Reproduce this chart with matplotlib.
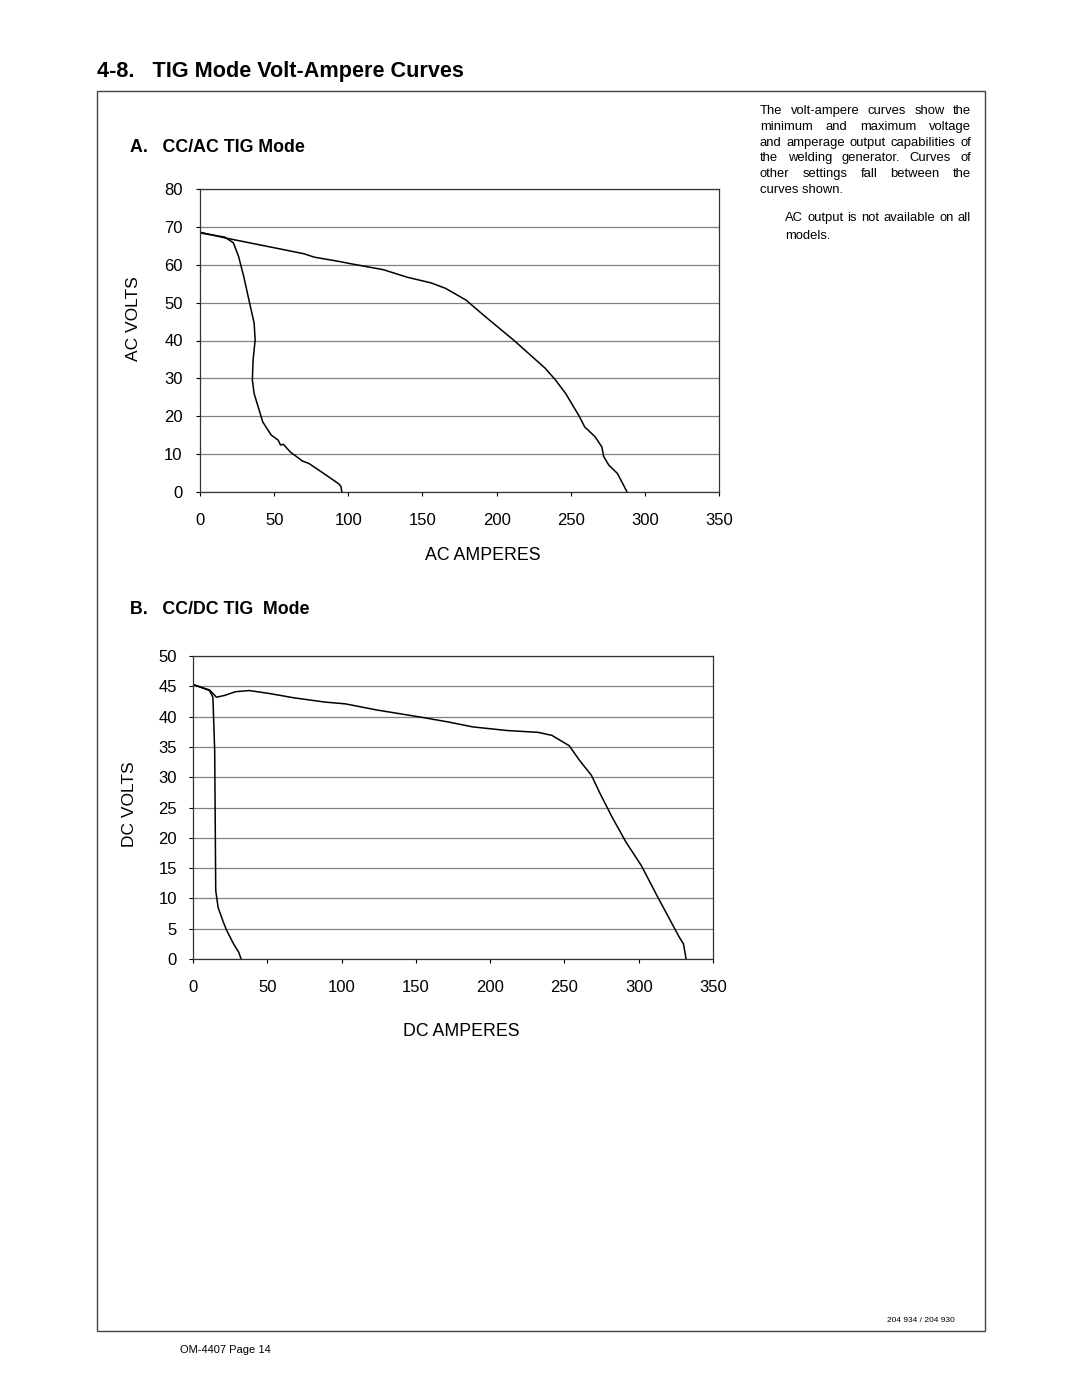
import matplotlib
matplotlib.use('Agg')
import matplotlib.pyplot as plt
from matplotlib.patches import Rectangle

plt.rcParams['font.family'] = ['Liberation Sans', 'DejaVu Sans']

# AC chart (amps, volts)
ac_max_amps = [0, 16.7, 56.2, 70.1, 77.1, 93.4, 102.6, 123.6, 139.8, 155.9, 165.4, 179.3,
               190.9, 211.8, 232.7, 239.7, 246.6, 255.9, 259.4, 266.4, 271.0, 272.2,
               275.7, 281.5, 288.0]
ac_max_volts = [68.6, 67.1, 64.0, 62.9, 62.0, 60.9, 60.2, 58.7, 56.7, 55.2, 53.8, 50.7,
                46.8, 40.0, 32.7, 29.6, 26.0, 19.9, 17.2, 14.6, 11.9, 9.4, 7.1, 4.9, 0]
ac_min_amps = [0, 16.7, 22.5, 26.0, 29.5, 33.0, 36.5, 37.2, 35.8, 35.3, 36.5, 39.9, 42.3,
               48.1, 52.7, 54.3, 56.2, 60.8, 69.0, 73.6, 86.4, 93.4, 95.0, 95.7]
ac_min_volts = [68.4, 67.3, 65.8, 62.2, 56.9, 50.7, 44.6, 40.2, 34.9, 29.6, 26.0, 21.6,
                18.5, 15.0, 13.7, 12.4, 12.6, 10.6, 8.2, 7.5, 4.1, 2.2, 1.5, 0]

# DC chart (amps, volts)
dc_max_amps = [0, 11.1, 15.8, 21.3, 28.5, 37.8, 51.7, 67.9, 88.7, 102.6, 123.5, 153.6,
               172.1, 188.3, 211.5, 232.3, 241.6, 253.2, 260.1, 268.2, 274.0, 282.1,
               291.4, 301.8, 312.2, 327.3, 330.1, 331.9]
dc_max_volts = [45.3, 44.4, 43.2, 43.5, 44.1, 44.3, 43.8, 43.1, 42.4, 42.1, 41.1, 39.9,
                39.1, 38.3, 37.7, 37.4, 36.9, 35.2, 32.8, 30.3, 27.3, 23.4, 19.3, 15.4,
                10.5, 3.6, 2.5, 0]
dc_min_amps = [0, 11.1, 13.4, 14.6, 15.1, 15.3, 16.9, 20.4, 22.7, 27.3, 30.8, 32.4]
dc_min_volts = [45.3, 44.3, 43.2, 34.4, 17.9, 11.3, 8.5, 6.1, 4.7, 2.5, 1.1, 0]

amp_ticks = [0, 50, 100, 150, 200, 250, 300, 350]
ac_volt_ticks = [0, 10, 20, 30, 40, 50, 60, 70, 80]
dc_volt_ticks = [0, 5, 10, 15, 20, 25, 30, 35, 40, 45, 50]

W, H = 1080, 1397
fig = plt.figure(figsize=(W / 100, H / 100), dpi=100)


def fx(px):
    return px / W


def fy(py):
    return 1 - py / H


def make_chart(rect, curves, yticks, ylabel, xlabel, ylab_xy, xlab_xy, ypad):
    ax = fig.add_axes(rect)
    for xs, ys in curves:
        ax.plot(xs, ys, color='black', lw=1.1, solid_joinstyle='round')
    ax.set_xlim(0, 350)
    ax.set_ylim(yticks[0], yticks[-1])
    ax.set_xticks(amp_ticks)
    ax.set_yticks(yticks)
    ax.yaxis.grid(True, color='#808080', lw=0.9)
    ax.set_axisbelow(True)
    for s in ax.spines.values():
        s.set_color('#333333')
        s.set_linewidth(0.9)
    ax.tick_params(axis='x', direction='out', length=3, width=0.8, pad=12, labelsize=12)
    ax.tick_params(axis='y', direction='out', length=3, width=0.8, pad=ypad, labelsize=12)
    fig.text(fx(ylab_xy[0]), fy(ylab_xy[1]), ylabel, rotation=90,
             ha='center', va='center', fontsize=12.5)
    fig.text(fx(xlab_xy[0]), fy(xlab_xy[1]), xlabel, ha='center', va='center', fontsize=12.8)
    return ax


make_chart([fx(200), fy(492), fx(519), 303 / H],
           [(ac_max_amps, ac_max_volts), (ac_min_amps, ac_min_volts)],
           ac_volt_ticks, 'AC VOLTS', 'AC AMPERES', (133, 319), (483, 555), 9.5)
make_chart([fx(193), fy(959), fx(520), 303 / H],
           [(dc_max_amps, dc_max_volts), (dc_min_amps, dc_min_volts)],
           dc_volt_ticks, 'DC VOLTS', 'DC AMPERES', (129, 804), (461, 1032), 8.5)

# page furniture
fig.text(fx(97), fy(72), '4-8.   TIG Mode Volt-Ampere Curves', fontsize=15.6,
         fontweight='bold', va='center', ha='left')
fig.patches.append(Rectangle((fx(97), fy(1331)), fx(888), (1331 - 91) / H,
                             transform=fig.transFigure, fill=False,
                             edgecolor='#444444', lw=1.0))
fig.text(fx(130), fy(148), 'A.   CC/AC TIG Mode', fontsize=12.8, fontweight='bold', va='center')
fig.text(fx(130), fy(609), 'B.   CC/DC TIG  Mode', fontsize=12.8, fontweight='bold', va='center')
fig.text(fx(955), fy(1320), '204 934 / 204 930', fontsize=6, ha='right', va='center')
fig.text(fx(180), fy(1350), 'OM-4407 Page 14', fontsize=8, ha='left', va='center')

# justified side note
note_lines = ['The volt-ampere curves show the',
              'minimum and maximum voltage',
              'and amperage output capabilities of',
              'the welding generator. Curves of',
              'other settings fall between the',
              'curves shown.']
note2_lines = ['AC output is not available on all', 'models.']

renderer = fig.canvas.get_renderer()


def justify(lines, left, right, y0, step, size):
    for i, line in enumerate(lines):
        y = y0 + i * step
        words = line.split()
        last = i == len(lines) - 1
        if last or len(words) == 1:
            fig.text(fx(left), fy(y), line, fontsize=size, va='center')
            continue
        texts = [fig.text(0, fy(y), w, fontsize=size, va='center') for w in words]
        widths = [t.get_window_extent(renderer).width for t in texts]
        gap = (right - left - sum(widths)) / (len(words) - 1)
        x = left
        for t, w in zip(texts, widths):
            t.set_x(fx(x))
            x += w + gap


justify(note_lines, 760, 971, 111, 15.8, 9.4)
justify(note2_lines, 785, 971, 218, 18, 9.4)

fig.savefig('out.png', dpi=100)
